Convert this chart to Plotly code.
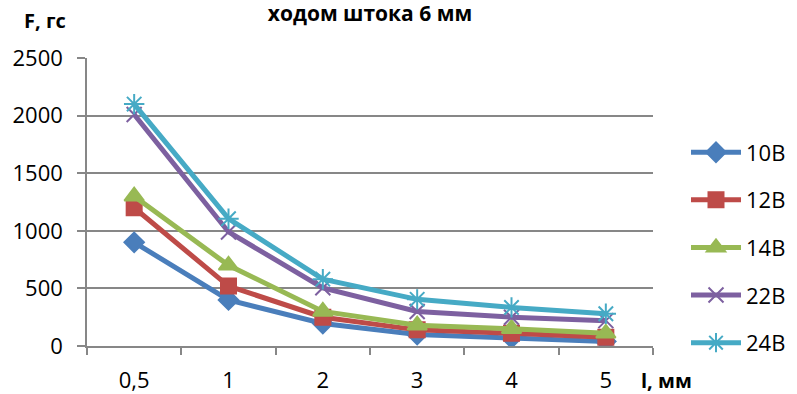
import plotly.graph_objects as go

categories = ["0,5", "1", "2", "3", "4", "5"]
series_names = ["10В", "12В", "14В", "22В", "24В"]
v10 = [900, 400, 195, 100, 70, 40]
v12 = [1200, 520, 250, 140, 110, 75]
v14 = [1300, 700, 300, 180, 150, 110]
v22 = [2010, 990, 505, 300, 250, 220]
v24 = [2100, 1105, 580, 405, 335, 280]
values = [v10, v12, v14, v22, v24]

colors = ["#4A7EBB", "#BE4B48", "#98B954", "#7D60A0", "#46AAC5"]
symbols = ["diamond", "square", "triangle-up", "x-thin", "asterisk"]
sizes = [15, 15, 17, 15, 17]

fig = go.Figure()
for name, vals, c, s, sz in zip(series_names, values, colors, symbols, sizes):
    fig.add_trace(go.Scatter(
        x=categories, y=vals, name=name, mode="lines+markers",
        line=dict(color=c, width=5),
        marker=dict(symbol=s, size=sz, color=c, line=dict(color=c, width=2)),
        legendgroup=name,
    ))

font = "Open Sans"
fig.update_layout(
    width=797, height=394,
    margin=dict(l=87, r=144, t=58, b=48),
    paper_bgcolor="white", plot_bgcolor="white",
    font=dict(family=font, size=22, color="black"),
    title=dict(text="<b>ходом штока 6 мм</b>", x=0.5, xref="paper",
               y=1 - 14 / 394, yanchor="middle", font=dict(size=21)),
    showlegend=True,
    legend=dict(xref="container", x=686 / 797, xanchor="left",
                y=0.745, yanchor="top",
                tracegroupgap=16, font=dict(size=22), itemwidth=50),
    xaxis=dict(type="category", range=[-0.5, 5.5], tickson="boundaries",
               ticks="outside", ticklen=7, tickcolor="#878787", tickwidth=1.5,
               showline=True, linecolor="#878787", linewidth=1.5,
               showgrid=False, tickfont=dict(size=22), ticklabelstandoff=14,
               automargin=False),
    yaxis=dict(range=[0, 2500], dtick=500, ticks="outside", ticklen=8,
               tickcolor="#878787", tickwidth=1.5,
               showline=True, linecolor="#878787", linewidth=1.5,
               showgrid=True, gridcolor="#878787", gridwidth=1.5,
               zeroline=False, tickfont=dict(size=22), ticklabelstandoff=10,
               automargin=False),
    annotations=[
        dict(text="<b>F, гс</b>", xref="paper", yref="paper",
             x=(45 - 87) / 566, y=(346 - 21) / 288, xanchor="center",
             yanchor="middle", showarrow=False, font=dict(size=20)),
        dict(text="<b>l, мм</b>", xref="paper", yref="paper",
             x=(666 - 87) / 566, y=(346 - 380) / 288, xanchor="center",
             yanchor="middle", showarrow=False, font=dict(size=20)),
    ],
)

fig.write_html("out.html", config={"displayModeBar": False})
with open("out.html", encoding="utf-8") as f:
    html = f.read()
html = html.replace("<body>", '<body style="margin:0;padding:0;">', 1)
with open("out.html", "w", encoding="utf-8") as f:
    f.write(html)
